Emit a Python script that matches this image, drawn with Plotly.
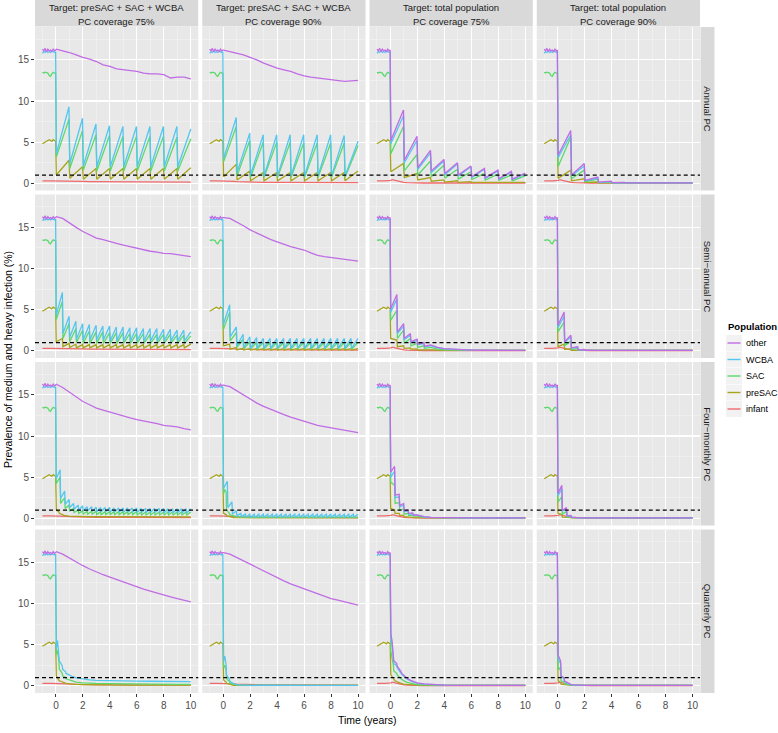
import plotly.graph_objects as go

# ---------------- data ----------------
SERIES = ["infant", "preSAC", "SAC", "WCBA", "other"]          # drawing order (bottom -> top)
LEGEND_ORDER = ["other", "WCBA", "SAC", "preSAC", "infant"]
COLORS = {"infant": "#EE6A6C", "preSAC": "#A7A41E", "SAC": "#5CD86C",
          "WCBA": "#55C6EE", "other": "#C06CE4"}

COL_TITLES = [("Target: preSAC + SAC + WCBA", "PC coverage 75%"),
              ("Target: preSAC + SAC + WCBA", "PC coverage 90%"),
              ("Target: total population", "PC coverage 75%"),
              ("Target: total population", "PC coverage 90%")]
ROW_TITLES = ["Annual PC", "Semi\u2212annual PC", "Four\u2212monthly PC", "Quarterly PC"]
X_TICKS = [0, 2, 4, 6, 8, 10]
Y_TICKS = [0, 5, 10, 15]

# pre-treatment (same in every panel)
PRE_T = [-1.0, -0.9, -0.8, -0.7, -0.6, -0.5, -0.4, -0.3, -0.2, -0.1, -0.02]
PRE_OTHER = [16.3, 16.1, 16.4, 16.0, 16.3, 16.1, 16.2, 16.0, 16.3, 16.1, 16.2]
PRE_WCBA = [15.8, 16.0, 15.9, 16.1, 15.9, 16.0, 15.9, 16.1, 16.0, 15.9, 16.0]
PRE_SAC = [13.5, 13.4, 13.5, 13.4, 13.4, 13.1, 13.0, 13.3, 13.5, 13.4, 13.4]
PRE_PRESAC = [4.8, 4.9, 5.0, 5.1, 5.2, 5.3, 5.2, 5.1, 5.3, 5.2, 5.1]
PRE_INFANT = [0.28, 0.3, 0.3, 0.31, 0.3, 0.29, 0.3, 0.3, 0.31, 0.3, 0.3]

# time grids (years)
TS = [0.03, 0.5, 1.0, 1.5, 2.0, 2.5, 3.0, 3.5, 4.0, 4.5, 5.0, 5.5, 6.0, 6.5,
      7.0, 7.5, 8.0, 8.5, 9.0, 9.5, 10.0]
TE = [0.03, 0.12, 0.22, 0.25, 0.35, 0.47, 0.5, 0.6, 0.72, 0.75, 0.85, 1.0,
      1.25, 1.5, 2.0, 2.5, 3.0, 4.0, 5.0, 6.0, 7.0, 8.0, 9.0, 10.0]
T1 = [0.03, 0.97, 1.03, 1.97, 2.03, 2.97, 3.03, 3.97, 4.03, 4.97,
      5.03, 5.97, 6.03, 6.97, 7.03, 7.97, 8.03, 8.97, 9.03, 10.0]
T2 = [0.02, 0.48, 0.52, 0.98, 1.02, 1.48, 1.52, 1.98, 2.02, 2.48, 2.52, 2.98,
      3.02, 3.48, 3.52, 3.98, 4.02, 4.48, 4.52, 4.98, 5.02, 5.48, 5.52, 5.98,
      6.02, 6.48, 6.52, 6.98, 7.02, 7.48, 7.52, 7.98, 8.02, 8.48, 8.52, 8.98,
      9.02, 9.48, 9.52, 10.0]
T2E = [0.02, 0.48, 0.52, 0.98, 1.02, 1.48, 1.52, 1.98, 2.02, 2.48, 2.52, 2.98,
       3.5, 4.0, 5.0, 6.0, 7.0, 8.0, 9.0, 10.0]
T3 = [0.02, 0.31, 0.35, 0.65, 0.69, 0.98,
      1.02, 1.31, 1.35, 1.65, 1.69, 1.98,
      2.02, 2.31, 2.35, 2.65, 2.69, 2.98,
      3.02, 3.31, 3.35, 3.65, 3.69, 3.98,
      4.02, 4.31, 4.35, 4.65, 4.69, 4.98,
      5.02, 5.31, 5.35, 5.65, 5.69, 5.98,
      6.02, 6.31, 6.35, 6.65, 6.69, 6.98,
      7.02, 7.31, 7.35, 7.65, 7.69, 7.98,
      8.02, 8.31, 8.35, 8.65, 8.69, 8.98,
      9.02, 9.31, 9.35, 9.65, 9.69, 10.0]
T3E = [0.02, 0.31, 0.35, 0.65, 0.69, 0.98, 1.02, 1.31, 1.35, 1.65, 1.69, 1.98,
       2.5, 3.0, 4.0, 5.0, 6.0, 7.0, 8.0, 9.0, 10.0]

# infant (on TE)
INF_SLOW = [0.3, 0.3, 0.31, 0.3, 0.3, 0.3, 0.29, 0.29, 0.28, 0.28, 0.27, 0.27,
            0.26, 0.25, 0.23, 0.21, 0.2, 0.18, 0.17, 0.16, 0.16, 0.15, 0.15, 0.15]
INF_MED = [0.3, 0.3, 0.3, 0.29, 0.28, 0.27, 0.26, 0.25, 0.24, 0.23, 0.22, 0.2,
           0.18, 0.16, 0.14, 0.12, 0.11, 0.1, 0.09, 0.08, 0.08, 0.08, 0.08, 0.08]
INF_FAST = [0.35, 0.4, 0.42, 0.4, 0.35, 0.3, 0.28, 0.22, 0.18, 0.17, 0.14, 0.1,
            0.07, 0.05, 0.04, 0.03, 0.03, 0.03, 0.03, 0.03, 0.03, 0.03, 0.03, 0.03]

# "other" in the targeted-group columns (on TS)
R1C1_OTHER = [16.3, 16.1, 15.9, 15.6, 15.3, 15.1, 14.8, 14.4, 14.2, 13.9, 13.8,
              13.7, 13.6, 13.4, 13.3, 13.3, 13.2, 12.8, 12.9, 12.9, 12.7]
R1C2_OTHER = [16.2, 16.0, 15.8, 15.6, 15.3, 15.0, 14.6, 14.3, 14.0, 13.8, 13.6,
              13.3, 13.05, 12.9, 12.8, 12.7, 12.6, 12.5, 12.4, 12.45, 12.5]
R2C1_OTHER = [16.3, 16.1, 15.5, 15.0, 14.5, 14.1, 13.7, 13.5, 13.25, 13.05, 12.85,
              12.65, 12.45, 12.3, 12.1, 12.0, 11.85, 11.8, 11.7, 11.6, 11.45]
R2C2_OTHER = [16.2, 16.1, 15.7, 15.2, 14.7, 14.3, 13.9, 13.55, 13.25, 12.95, 12.65,
              12.45, 12.25, 11.9, 11.6, 11.45, 11.35, 11.2, 11.1, 11.0, 10.9]
R3C1_OTHER = [16.3, 15.9, 15.3, 14.7, 14.2, 13.8, 13.4, 13.15, 12.9, 12.65, 12.4,
              12.2, 12.0, 11.85, 11.7, 11.5, 11.3, 11.2, 11.1, 10.9, 10.75]
R3C2_OTHER = [16.2, 16.0, 15.5, 14.9, 14.4, 14.0, 13.6, 13.25, 12.9, 12.6, 12.3,
              12.05, 11.8, 11.55, 11.3, 11.15, 11.0, 10.85, 10.7, 10.55, 10.4]
R4C1_OTHER = [16.3, 16.0, 15.5, 15.0, 14.6, 14.2, 13.8, 13.5, 13.2, 12.9, 12.6,
              12.3, 12.0, 11.75, 11.5, 11.25, 11.0, 10.8, 10.6, 10.4, 10.2]
R4C2_OTHER = [16.2, 16.0, 15.6, 15.1, 14.7, 14.3, 13.9, 13.5, 13.1, 12.75, 12.4,
              12.1, 11.8, 11.5, 11.2, 10.9, 10.6, 10.4, 10.2, 10.0, 9.8]

# ---- row 1: annual PC (T1) ----
R1C1_WCBA = [3.6, 9.3, 2.4, 7.9, 2.1, 7.2, 2.0, 7.0, 2.0, 6.9, 2.0, 6.9, 2.0, 6.9, 2.0, 6.9, 2.0, 6.9, 2.0, 6.6]
R1C1_SAC = [3.2, 7.8, 1.8, 6.4, 1.6, 5.9, 1.5, 5.8, 1.5, 5.7, 1.5, 5.7, 1.5, 5.7, 1.5, 5.7, 1.5, 5.6, 1.5, 5.4]
R1C1_PRESAC = [1.0, 2.8, 0.6, 2.0, 0.5, 1.8, 0.5, 1.8, 0.5, 1.8, 0.5, 1.8, 0.5, 1.8, 0.5, 1.8, 0.5, 1.8, 0.5, 1.9]
R1C2_WCBA = [3.0, 8.0, 1.3, 6.1, 1.0, 5.9, 0.9, 5.9, 0.9, 5.9, 0.9, 5.9, 0.9, 5.9, 0.9, 5.9, 0.9, 5.8, 0.9, 5.1]
R1C2_SAC = [2.6, 6.9, 0.9, 5.2, 0.7, 5.0, 0.7, 5.0, 0.7, 5.0, 0.7, 4.9, 0.7, 4.9, 0.7, 4.9, 0.7, 4.9, 0.7, 4.6]
R1C2_PRESAC = [0.8, 2.3, 0.4, 1.5, 0.3, 1.3, 0.3, 1.3, 0.3, 1.3, 0.3, 1.3, 0.3, 1.3, 0.3, 1.3, 0.3, 1.3, 0.3, 1.5]
R1C3_OTHER = [5.2, 8.9, 2.8, 5.7, 1.9, 4.0, 1.5, 2.9, 1.2, 2.5, 1.0, 2.1, 0.8, 1.8, 0.65, 1.6, 0.55, 1.45, 0.5, 1.25]
R1C3_WCBA = [4.8, 8.2, 2.5, 5.2, 1.7, 3.7, 1.3, 2.7, 1.05, 2.35, 0.9, 2.0, 0.7, 1.7, 0.6, 1.5, 0.5, 1.35, 0.45, 1.15]
R1C3_SAC = [3.6, 6.9, 1.5, 3.5, 1.0, 2.7, 0.8, 2.2, 0.6, 1.7, 0.5, 1.4, 0.45, 1.2, 0.4, 1.1, 0.35, 1.0, 0.3, 0.9]
R1C3_PRESAC = [1.4, 2.4, 0.7, 1.2, 0.4, 0.7, 0.25, 0.4, 0.15, 0.3, 0.12, 0.2, 0.1, 0.15, 0.1, 0.12, 0.1, 0.12, 0.1, 0.1]
R1C4_OTHER = [3.4, 6.4, 1.0, 2.4, 0.35, 0.75, 0.15, 0.25, 0.08, 0.1, 0.05, 0.05, 0.05, 0.05, 0.05, 0.05, 0.05, 0.05, 0.05, 0.05]
R1C4_WCBA = [3.1, 5.9, 0.9, 2.1, 0.3, 0.6, 0.12, 0.2, 0.06, 0.08, 0.05, 0.05, 0.05, 0.05, 0.05, 0.05, 0.05, 0.05, 0.05, 0.05]
R1C4_SAC = [2.0, 5.6, 0.55, 1.6, 0.2, 0.5, 0.08, 0.15, 0.05, 0.05, 0.05, 0.05, 0.05, 0.05, 0.05, 0.05, 0.05, 0.05, 0.05, 0.05]
R1C4_PRESAC = [0.6, 1.6, 0.3, 0.55, 0.1, 0.15, 0.05, 0.05, 0.05, 0.05, 0.05, 0.05, 0.05, 0.05, 0.05, 0.05, 0.05, 0.05, 0.05, 0.05]

# ---- row 2: semi-annual PC (T2 / T2E) ----
R2C1_WCBA = [4.3, 7.1, 2.1, 4.2,
             1.6, 3.6, 1.4, 3.3,
             1.3, 3.2, 1.3, 3.1,
             1.3, 3.0, 1.3, 3.0,
             1.2, 2.9, 1.2, 2.9,
             1.2, 2.8, 1.2, 2.8,
             1.2, 2.7, 1.2, 2.7,
             1.2, 2.7, 1.2, 2.6,
             1.2, 2.6, 1.2, 2.5,
             1.2, 2.5, 1.2, 2.3]
R2C1_SAC = [3.8, 6.0, 1.5, 3.3,
            1.1, 2.7, 1.0, 2.5,
            0.9, 2.4, 0.9, 2.3,
            0.9, 2.3, 0.9, 2.2,
            0.9, 2.2, 0.9, 2.2,
            0.9, 2.1, 0.9, 2.1,
            0.9, 2.1, 0.9, 2.0,
            0.9, 2.0, 0.9, 2.0,
            0.9, 2.0, 0.9, 1.9,
            0.9, 1.9, 0.9, 1.8]
R2C1_PRESAC = [1.1, 1.5, 0.5, 0.9,
               0.4, 0.8, 0.35, 0.75,
               0.35, 0.75, 0.35, 0.75,
               0.35, 0.75, 0.35, 0.75,
               0.35, 0.75, 0.35, 0.75,
               0.35, 0.75, 0.35, 0.75,
               0.35, 0.75, 0.35, 0.75,
               0.35, 0.75, 0.35, 0.75,
               0.35, 0.75, 0.35, 0.75,
               0.35, 0.75, 0.35, 0.8]
R2C2_WCBA = [3.2, 5.6, 1.7, 2.9,
             0.6, 2.0, 0.4, 1.7,
             0.3, 1.6, 0.3, 1.5,
             0.3, 1.5, 0.3, 1.5,
             0.3, 1.5, 0.3, 1.5,
             0.3, 1.5, 0.3, 1.5,
             0.3, 1.5, 0.3, 1.5,
             0.3, 1.5, 0.3, 1.5,
             0.3, 1.5, 0.3, 1.5,
             0.3, 1.5, 0.3, 1.5]
R2C2_SAC = [2.6, 4.7, 1.2, 2.2,
            0.4, 1.4, 0.25, 1.1,
            0.2, 1.0, 0.2, 1.0,
            0.2, 1.0, 0.2, 1.0,
            0.2, 1.0, 0.2, 1.0,
            0.2, 1.0, 0.2, 1.0,
            0.2, 1.0, 0.2, 1.0,
            0.2, 1.0, 0.2, 1.0,
            0.2, 1.0, 0.2, 1.0,
            0.2, 1.0, 0.2, 1.0]
R2C2_PRESAC = [0.6, 0.8, 0.2, 0.4,
               0.1, 0.3, 0.1, 0.25,
               0.1, 0.25, 0.1, 0.25,
               0.1, 0.25, 0.1, 0.25,
               0.1, 0.25, 0.1, 0.25,
               0.1, 0.25, 0.1, 0.25,
               0.1, 0.25, 0.1, 0.25,
               0.1, 0.25, 0.1, 0.25,
               0.1, 0.25, 0.1, 0.25,
               0.1, 0.25, 0.1, 0.25]
R2C3_OTHER = [5.1, 6.85, 2.3, 3.3, 1.5, 2.1, 1.1, 1.4, 0.8, 1.0, 0.55, 0.7, 0.4, 0.25, 0.12, 0.08, 0.06, 0.05, 0.05, 0.05]
R2C3_WCBA = [4.7, 6.3, 2.1, 3.0, 1.35, 1.9, 1.0, 1.25, 0.7, 0.9, 0.5, 0.62, 0.35, 0.22, 0.1, 0.07, 0.05, 0.05, 0.05, 0.05]
R2C3_SAC = [3.7, 4.9, 1.5, 2.5, 0.9, 1.5, 0.6, 0.9, 0.4, 0.6, 0.3, 0.4, 0.2, 0.12, 0.07, 0.05, 0.05, 0.05, 0.05, 0.05]
R2C3_PRESAC = [1.5, 1.3, 0.5, 0.6, 0.3, 0.35, 0.2, 0.22, 0.12, 0.14, 0.08, 0.1, 0.06, 0.05, 0.05, 0.05, 0.05, 0.05, 0.05, 0.05]
R2C4_OTHER = [3.1, 4.7, 1.1, 1.9, 0.35, 0.5, 0.12, 0.15, 0.06, 0.07, 0.05, 0.05, 0.05, 0.05, 0.05, 0.05, 0.05, 0.05, 0.05, 0.05]
R2C4_WCBA = [2.8, 4.2, 1.0, 1.7, 0.3, 0.45, 0.1, 0.13, 0.05, 0.05, 0.05, 0.05, 0.05, 0.05, 0.05, 0.05, 0.05, 0.05, 0.05, 0.05]
R2C4_SAC = [2.3, 3.5, 0.6, 1.2, 0.15, 0.3, 0.07, 0.08, 0.05, 0.05, 0.05, 0.05, 0.05, 0.05, 0.05, 0.05, 0.05, 0.05, 0.05, 0.05]
R2C4_PRESAC = [0.5, 0.8, 0.15, 0.25, 0.06, 0.08, 0.05, 0.05, 0.05, 0.05, 0.05, 0.05, 0.05, 0.05, 0.05, 0.05, 0.05, 0.05, 0.05, 0.05]

# ---- row 3: four-monthly PC (T3 / T3E / TE) ----
R3C1_WCBA = [4.8, 5.9, 2.4, 3.3, 1.7, 2.3,
             1.3, 1.8, 1.1, 1.6, 1.0, 1.5,
             0.9, 1.4, 0.9, 1.4, 0.85, 1.35,
             0.8, 1.3, 0.8, 1.3, 0.8, 1.3,
             0.75, 1.25, 0.75, 1.25, 0.75, 1.25,
             0.75, 1.25, 0.75, 1.25, 0.75, 1.25,
             0.7, 1.2, 0.7, 1.2, 0.7, 1.2,
             0.7, 1.2, 0.7, 1.2, 0.7, 1.2,
             0.65, 1.15, 0.65, 1.15, 0.65, 1.15,
             0.65, 1.15, 0.65, 1.15, 0.65, 1.15]
R3C1_SAC = [4.2, 5.0, 1.8, 2.5, 1.2, 1.6,
            0.9, 1.2, 0.7, 1.0, 0.6, 0.9,
            0.5, 0.85, 0.5, 0.85, 0.5, 0.85,
            0.45, 0.8, 0.45, 0.8, 0.45, 0.8,
            0.45, 0.8, 0.45, 0.8, 0.45, 0.8,
            0.45, 0.8, 0.45, 0.8, 0.45, 0.8,
            0.4, 0.75, 0.4, 0.75, 0.4, 0.75,
            0.4, 0.75, 0.4, 0.75, 0.4, 0.75,
            0.4, 0.75, 0.4, 0.75, 0.4, 0.75,
            0.4, 0.75, 0.4, 0.75, 0.4, 0.75]
R3C1_PRESAC = [1.0, 0.9, 0.8, 0.6, 0.5, 0.45, 0.4, 0.35, 0.32, 0.3, 0.28, 0.26,
               0.24, 0.22, 0.2, 0.2, 0.19, 0.18, 0.18, 0.17, 0.17, 0.16, 0.16, 0.16]
R3C2_WCBA = [3.6, 4.5, 1.3, 2.0, 0.5, 0.9,
             0.3, 0.6, 0.2, 0.5, 0.15, 0.5,
             0.12, 0.5, 0.12, 0.5, 0.12, 0.5,
             0.12, 0.5, 0.12, 0.5, 0.12, 0.5,
             0.12, 0.5, 0.12, 0.5, 0.12, 0.5,
             0.12, 0.5, 0.12, 0.5, 0.12, 0.5,
             0.12, 0.5, 0.12, 0.5, 0.12, 0.5,
             0.12, 0.5, 0.12, 0.5, 0.12, 0.5,
             0.12, 0.5, 0.12, 0.5, 0.12, 0.5,
             0.12, 0.5, 0.12, 0.5, 0.12, 0.5]
R3C2_SAC = [3.0, 3.5, 3.2, 1.0, 0.8, 0.6, 0.4, 0.35, 0.3, 0.25, 0.22, 0.2,
            0.18, 0.16, 0.15, 0.15, 0.15, 0.15, 0.15, 0.15, 0.15, 0.15, 0.15, 0.15]
R3C2_PRESAC = [0.6, 0.55, 0.45, 0.3, 0.25, 0.2, 0.15, 0.12, 0.1, 0.09, 0.08, 0.07,
               0.06, 0.05, 0.05, 0.05, 0.05, 0.05, 0.05, 0.05, 0.05, 0.05, 0.05, 0.05]
R3C3_OTHER = [5.6, 6.3, 2.8, 2.9, 1.55, 1.8, 0.9, 1.0, 0.6, 0.65, 0.4, 0.42, 0.2, 0.12, 0.07, 0.05, 0.05, 0.05, 0.05, 0.05, 0.05]
R3C3_WCBA = [5.0, 5.7, 2.5, 2.6, 1.4, 1.6, 0.8, 0.9, 0.5, 0.55, 0.35, 0.37, 0.18, 0.1, 0.06, 0.05, 0.05, 0.05, 0.05, 0.05, 0.05]
R3C3_SAC = [4.4, 4.0, 1.8, 1.9, 1.0, 1.1, 0.5, 0.6, 0.35, 0.38, 0.25, 0.26, 0.12, 0.08, 0.05, 0.05, 0.05, 0.05, 0.05, 0.05, 0.05]
R3C3_PRESAC = [1.2, 1.0, 0.6, 0.6, 0.35, 0.35, 0.2, 0.2, 0.12, 0.12, 0.08, 0.08, 0.06, 0.05, 0.05, 0.05, 0.05, 0.05, 0.05, 0.05, 0.05]
R3C4_OTHER = [3.0, 4.0, 0.95, 1.3, 0.3, 0.35, 0.12, 0.12, 0.07, 0.07, 0.05, 0.05, 0.05, 0.05, 0.05, 0.05, 0.05, 0.05, 0.05, 0.05, 0.05]
R3C4_WCBA = [2.7, 3.6, 0.85, 1.15, 0.27, 0.3, 0.1, 0.1, 0.06, 0.06, 0.05, 0.05, 0.05, 0.05, 0.05, 0.05, 0.05, 0.05, 0.05, 0.05, 0.05]
R3C4_SAC = [2.0, 2.6, 0.5, 0.8, 0.15, 0.2, 0.07, 0.07, 0.05, 0.05, 0.05, 0.05, 0.05, 0.05, 0.05, 0.05, 0.05, 0.05, 0.05, 0.05, 0.05]
R3C4_PRESAC = [0.6, 0.45, 0.15, 0.15, 0.07, 0.07, 0.05, 0.05, 0.05, 0.05, 0.05, 0.05, 0.05, 0.05, 0.05, 0.05, 0.05, 0.05, 0.05, 0.05, 0.05]

# ---- row 4: quarterly PC (TE) ----
R4C1_WCBA = [4.5, 5.5, 4.0, 3.0, 2.8, 2.4, 2.0, 1.9, 1.7, 1.5, 1.4, 1.3,
             1.1, 0.95, 0.8, 0.72, 0.65, 0.6, 0.58, 0.56, 0.55, 0.52, 0.5, 0.5]
R4C1_SAC = [3.8, 4.3, 3.0, 2.0, 1.8, 1.5, 1.2, 1.1, 1.0, 0.85, 0.8, 0.7,
            0.55, 0.45, 0.35, 0.3, 0.28, 0.25, 0.22, 0.2, 0.2, 0.2, 0.18, 0.18]
R4C1_PRESAC = [1.2, 1.0, 0.8, 0.6, 0.55, 0.45, 0.4, 0.35, 0.3, 0.28, 0.25, 0.22,
               0.2, 0.18, 0.15, 0.12, 0.1, 0.1, 0.08, 0.08, 0.08, 0.08, 0.08, 0.08]
R4C2_WCBA = [3.0, 3.6, 2.5, 1.3, 1.0, 0.8, 0.5, 0.4, 0.3, 0.25, 0.2, 0.15,
             0.1, 0.08, 0.06, 0.05, 0.05, 0.05, 0.05, 0.05, 0.05, 0.05, 0.05, 0.05]
R4C2_SAC = [2.2, 2.5, 1.8, 0.9, 0.7, 0.5, 0.3, 0.25, 0.2, 0.15, 0.12, 0.1,
            0.07, 0.05, 0.05, 0.05, 0.05, 0.05, 0.05, 0.05, 0.05, 0.05, 0.05, 0.05]
R4C2_PRESAC = [0.7, 0.6, 0.45, 0.3, 0.25, 0.2, 0.12, 0.1, 0.08, 0.06, 0.05, 0.05,
               0.05, 0.05, 0.05, 0.05, 0.05, 0.05, 0.05, 0.05, 0.05, 0.05, 0.05, 0.05]
R4C3_OTHER = [6.3, 5.5, 4.0, 3.0, 2.9, 2.7, 2.4, 2.2, 1.9, 1.8, 1.5, 1.25,
              0.9, 0.65, 0.35, 0.22, 0.15, 0.08, 0.05, 0.05, 0.05, 0.05, 0.05, 0.05]
R4C3_WCBA = [5.7, 5.0, 3.6, 2.7, 2.6, 2.4, 2.2, 2.0, 1.7, 1.6, 1.35, 1.1,
             0.8, 0.58, 0.3, 0.2, 0.13, 0.07, 0.05, 0.05, 0.05, 0.05, 0.05, 0.05]
R4C3_SAC = [4.2, 3.5, 2.5, 1.8, 1.7, 1.5, 1.3, 1.2, 1.0, 0.9, 0.75, 0.6,
            0.42, 0.3, 0.15, 0.1, 0.07, 0.05, 0.05, 0.05, 0.05, 0.05, 0.05, 0.05]
R4C3_PRESAC = [1.3, 1.1, 0.9, 0.7, 0.6, 0.5, 0.45, 0.4, 0.35, 0.3, 0.25, 0.2,
               0.15, 0.12, 0.08, 0.06, 0.05, 0.05, 0.05, 0.05, 0.05, 0.05, 0.05, 0.05]
R4C4_OTHER = [3.7, 3.4, 3.0, 1.2, 1.1, 1.0, 0.6, 0.5, 0.35, 0.3, 0.22, 0.15,
              0.1, 0.07, 0.05, 0.05, 0.05, 0.05, 0.05, 0.05, 0.05, 0.05, 0.05, 0.05]
R4C4_WCBA = [3.3, 3.0, 2.7, 1.1, 1.0, 0.9, 0.55, 0.45, 0.3, 0.27, 0.2, 0.13,
             0.09, 0.06, 0.05, 0.05, 0.05, 0.05, 0.05, 0.05, 0.05, 0.05, 0.05, 0.05]
R4C4_SAC = [2.0, 2.2, 1.8, 0.6, 0.55, 0.45, 0.25, 0.2, 0.15, 0.12, 0.1, 0.07,
            0.05, 0.05, 0.05, 0.05, 0.05, 0.05, 0.05, 0.05, 0.05, 0.05, 0.05, 0.05]
R4C4_PRESAC = [0.6, 0.5, 0.4, 0.2, 0.18, 0.15, 0.1, 0.08, 0.06, 0.05, 0.05, 0.05,
               0.05, 0.05, 0.05, 0.05, 0.05, 0.05, 0.05, 0.05, 0.05, 0.05, 0.05, 0.05]

PRE = {"infant": PRE_INFANT, "preSAC": PRE_PRESAC, "SAC": PRE_SAC,
       "WCBA": PRE_WCBA, "other": PRE_OTHER}

PANELS = {
    (0, 0): {"infant": (TE, INF_SLOW), "preSAC": (T1, R1C1_PRESAC), "SAC": (T1, R1C1_SAC), "WCBA": (T1, R1C1_WCBA), "other": (TS, R1C1_OTHER)},
    (0, 1): {"infant": (TE, INF_MED), "preSAC": (T1, R1C2_PRESAC), "SAC": (T1, R1C2_SAC), "WCBA": (T1, R1C2_WCBA), "other": (TS, R1C2_OTHER)},
    (0, 2): {"infant": (TE, INF_FAST), "preSAC": (T1, R1C3_PRESAC), "SAC": (T1, R1C3_SAC), "WCBA": (T1, R1C3_WCBA), "other": (T1, R1C3_OTHER)},
    (0, 3): {"infant": (TE, INF_FAST), "preSAC": (T1, R1C4_PRESAC), "SAC": (T1, R1C4_SAC), "WCBA": (T1, R1C4_WCBA), "other": (T1, R1C4_OTHER)},
    (1, 0): {"infant": (TE, INF_SLOW), "preSAC": (T2, R2C1_PRESAC), "SAC": (T2, R2C1_SAC), "WCBA": (T2, R2C1_WCBA), "other": (TS, R2C1_OTHER)},
    (1, 1): {"infant": (TE, INF_MED), "preSAC": (T2, R2C2_PRESAC), "SAC": (T2, R2C2_SAC), "WCBA": (T2, R2C2_WCBA), "other": (TS, R2C2_OTHER)},
    (1, 2): {"infant": (TE, INF_FAST), "preSAC": (T2E, R2C3_PRESAC), "SAC": (T2E, R2C3_SAC), "WCBA": (T2E, R2C3_WCBA), "other": (T2E, R2C3_OTHER)},
    (1, 3): {"infant": (TE, INF_FAST), "preSAC": (T2E, R2C4_PRESAC), "SAC": (T2E, R2C4_SAC), "WCBA": (T2E, R2C4_WCBA), "other": (T2E, R2C4_OTHER)},
    (2, 0): {"infant": (TE, INF_MED), "preSAC": (TE, R3C1_PRESAC), "SAC": (T3, R3C1_SAC), "WCBA": (T3, R3C1_WCBA), "other": (TS, R3C1_OTHER)},
    (2, 1): {"infant": (TE, INF_MED), "preSAC": (TE, R3C2_PRESAC), "SAC": (TE, R3C2_SAC), "WCBA": (T3, R3C2_WCBA), "other": (TS, R3C2_OTHER)},
    (2, 2): {"infant": (TE, INF_FAST), "preSAC": (T3E, R3C3_PRESAC), "SAC": (T3E, R3C3_SAC), "WCBA": (T3E, R3C3_WCBA), "other": (T3E, R3C3_OTHER)},
    (2, 3): {"infant": (TE, INF_FAST), "preSAC": (T3E, R3C4_PRESAC), "SAC": (T3E, R3C4_SAC), "WCBA": (T3E, R3C4_WCBA), "other": (T3E, R3C4_OTHER)},
    (3, 0): {"infant": (TE, INF_MED), "preSAC": (TE, R4C1_PRESAC), "SAC": (TE, R4C1_SAC), "WCBA": (TE, R4C1_WCBA), "other": (TS, R4C1_OTHER)},
    (3, 1): {"infant": (TE, INF_MED), "preSAC": (TE, R4C2_PRESAC), "SAC": (TE, R4C2_SAC), "WCBA": (TE, R4C2_WCBA), "other": (TS, R4C2_OTHER)},
    (3, 2): {"infant": (TE, INF_FAST), "preSAC": (TE, R4C3_PRESAC), "SAC": (TE, R4C3_SAC), "WCBA": (TE, R4C3_WCBA), "other": (TE, R4C3_OTHER)},
    (3, 3): {"infant": (TE, INF_FAST), "preSAC": (TE, R4C4_PRESAC), "SAC": (TE, R4C4_SAC), "WCBA": (TE, R4C4_WCBA), "other": (TE, R4C4_OTHER)},
}

for key, spec in PANELS.items():
    for s, (tg, vals) in spec.items():
        if len(tg) != len(vals):
            raise ValueError(f"length mismatch {key} {s}: {len(tg)} vs {len(vals)}")

# ---------------- layout geometry ----------------
W, H = 778, 733
ML, MR, MT, MB = 35, 78, 27, 40
PW = W - ML - MR   # 665
PH = H - MT - MB   # 666
GAP = 4
CW = (PW - 3 * GAP) / 4
RH = (PH - 3 * GAP) / 4
FONT = "Liberation Sans, Arial, Helvetica, sans-serif"
X_RANGE = [-1.55, 10.55]
Y_RANGE = [-0.88, 19.0]

fig = go.Figure()
layout = {}
shapes = []
annotations = []

for r in range(4):
    for c in range(4):
        idx = r * 4 + c + 1
        sfx = "" if idx == 1 else str(idx)
        x0 = c * (CW + GAP) / PW
        x1 = x0 + CW / PW
        ytop = 1 - r * (RH + GAP) / PH
        ybot = ytop - RH / PH
        show_x = (r == 3)
        show_y = (c == 0)
        layout["xaxis" + sfx] = dict(
            domain=[x0, x1], anchor="y" + sfx, range=X_RANGE,
            tickvals=X_TICKS, showticklabels=show_x,
            ticks="outside" if show_x else "", ticklen=3, tickwidth=1, tickcolor="#333333",
            tickfont=dict(family=FONT, size=10, color="#4D4D4D"),
            showgrid=True, gridcolor="#FFFFFF", gridwidth=1.1, zeroline=False, showline=False,
            minor=dict(tickvals=[-1, 1, 3, 5, 7, 9], showgrid=True, gridcolor="#F4F4F4", gridwidth=0.6),
        )
        layout["yaxis" + sfx] = dict(
            domain=[ybot, ytop], anchor="x" + sfx, range=Y_RANGE,
            tickvals=Y_TICKS, showticklabels=show_y,
            ticks="outside" if show_y else "", ticklen=3, tickwidth=1, tickcolor="#333333",
            tickfont=dict(family=FONT, size=10, color="#4D4D4D"),
            showgrid=True, gridcolor="#FFFFFF", gridwidth=1.1, zeroline=False, showline=False,
            minor=dict(tickvals=[2.5, 7.5, 12.5, 17.5], showgrid=True, gridcolor="#F4F4F4", gridwidth=0.6),
        )
        spec = PANELS[(r, c)]
        for s in SERIES:
            tg, vals = spec[s]
            fig.add_trace(go.Scatter(
                x=PRE_T + tg, y=PRE[s] + vals, mode="lines",
                line=dict(color=COLORS[s], width=1.3),
                name=s, showlegend=False, hoverinfo="skip",
                xaxis="x" + sfx, yaxis="y" + sfx,
            ))
        # threshold
        shapes.append(dict(type="line", xref=("x" + sfx + " domain"), yref="y" + sfx,
                           x0=0, x1=1, y0=1, y1=1,
                           line=dict(color="black", width=1.2, dash="4px,3px")))

# column strips
for c, (l1, l2) in enumerate(COL_TITLES):
    x0 = c * (CW + GAP) / PW
    x1 = x0 + CW / PW
    shapes.append(dict(type="rect", xref="paper", yref="paper", x0=x0, x1=x1,
                       y0=1 + 0.5 / PH, y1=1 + 27 / PH, fillcolor="#D9D9D9", line=dict(width=0),
                       layer="below"))
    annotations.append(dict(text=l1, xref="paper", yref="paper", x=(x0 + x1) / 2, y=1 + 20 / PH,
                            showarrow=False, font=dict(family=FONT, size=9.5, color="#1A1A1A"),
                            xanchor="center", yanchor="middle"))
    annotations.append(dict(text=l2, xref="paper", yref="paper", x=(x0 + x1) / 2, y=1 + 6 / PH,
                            showarrow=False, font=dict(family=FONT, size=9.5, color="#1A1A1A"),
                            xanchor="center", yanchor="middle"))

# row strips
for r, txt in enumerate(ROW_TITLES):
    ytop = 1 - r * (RH + GAP) / PH
    ybot = ytop - RH / PH
    shapes.append(dict(type="rect", xref="paper", yref="paper", x0=1 + 0.5 / PW, x1=1 + 14.5 / PW,
                       y0=ybot, y1=ytop, fillcolor="#D9D9D9", line=dict(width=0), layer="below"))
    annotations.append(dict(text=txt, xref="paper", yref="paper", x=1 + 7.5 / PW, y=(ybot + ytop) / 2,
                            showarrow=False, textangle=90,
                            font=dict(family=FONT, size=9.5, color="#1A1A1A"),
                            xanchor="center", yanchor="middle"))

# axis titles
annotations.append(dict(text="Time (years)", xref="paper", yref="paper", x=0.5, y=-27 / PH,
                        showarrow=False, font=dict(family=FONT, size=10.5, color="black"),
                        xanchor="center", yanchor="middle"))
annotations.append(dict(text="Prevalence of medium and heavy infection (%)", xref="paper", yref="paper",
                        x=-27 / PW, y=0.5, showarrow=False, textangle=-90,
                        font=dict(family=FONT, size=10.5, color="black"),
                        xanchor="center", yanchor="middle"))

# legend (drawn manually for exact spacing)
LEG_X = 726
LEG_TITLE_Y = 327
LEG_Y0 = 343
LEG_STEP = 16.5
def px_to_paper(xp, yp):
    return (xp - ML) / PW, (H - MB - yp) / PH

tx, ty = px_to_paper(LEG_X, LEG_TITLE_Y)
annotations.append(dict(text="<b>Population</b>", xref="paper", yref="paper", x=tx, y=ty,
                        showarrow=False, font=dict(family=FONT, size=9.5, color="black"),
                        xanchor="left", yanchor="middle"))
for i, s in enumerate(LEGEND_ORDER):
    yy = LEG_Y0 + i * LEG_STEP
    kx0, ky0 = px_to_paper(LEG_X, yy - 8)
    kx1, ky1 = px_to_paper(LEG_X + 16, yy + 8)
    shapes.append(dict(type="rect", xref="paper", yref="paper", x0=kx0, x1=kx1, y0=ky1, y1=ky0,
                       fillcolor="#F2F2F2", line=dict(width=0)))
    lx0, ly = px_to_paper(LEG_X + 1.5, yy)
    lx1, _ = px_to_paper(LEG_X + 14.5, yy)
    shapes.append(dict(type="line", xref="paper", yref="paper", x0=lx0, x1=lx1, y0=ly, y1=ly,
                       line=dict(color=COLORS[s], width=1.4)))
    ax, ay = px_to_paper(LEG_X + 18, yy)
    annotations.append(dict(text=s, xref="paper", yref="paper", x=ax, y=ay, showarrow=False,
                            font=dict(family=FONT, size=9, color="black"),
                            xanchor="left", yanchor="middle"))

fig.update_layout(
    width=W, height=H,
    margin=dict(l=ML, r=MR, t=MT, b=MB, pad=0),
    paper_bgcolor="white", plot_bgcolor="#E8E8E8",
    showlegend=False, hovermode=False,
    shapes=shapes, annotations=annotations,
    **layout,
)

fig.write_html("out.html", config={"displayModeBar": False, "staticPlot": True})

# remove the default page margin so the figure sits at the window's top-left corner
with open("out.html", "r", encoding="utf-8") as fh:
    html = fh.read()
html = html.replace("<head>", "<head><style>html,body{margin:0;padding:0;overflow:hidden;}</style>", 1)
with open("out.html", "w", encoding="utf-8") as fh:
    fh.write(html)
